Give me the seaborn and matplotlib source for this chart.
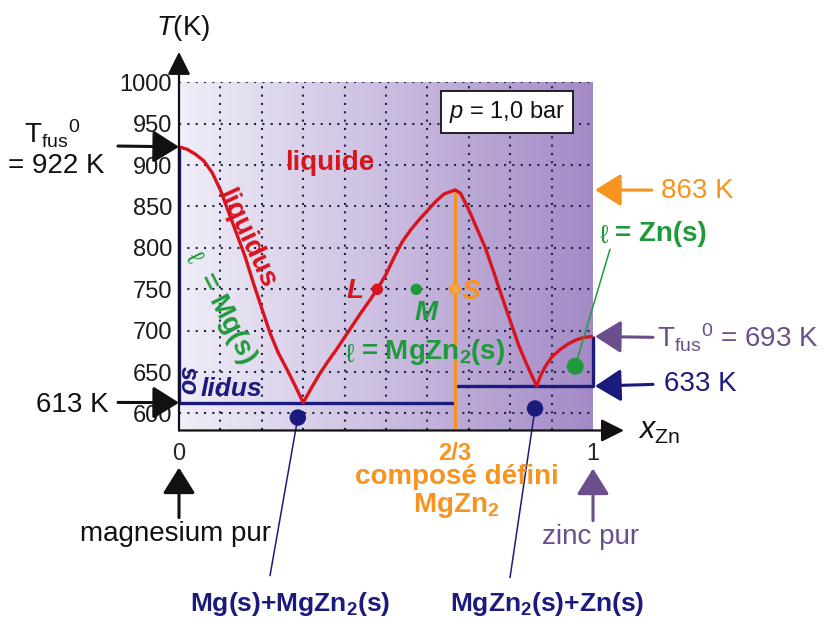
import numpy as np
import pandas as pd
import matplotlib
matplotlib.use("Agg")
import matplotlib.pyplot as plt
import seaborn as sns
from matplotlib.colors import LinearSegmentedColormap

# ---------------- data ----------------
liq_x = [0.00, 0.02, 0.04, 0.06, 0.08, 0.10, 0.12, 0.14, 0.16, 0.18, 0.20, 0.22, 0.24, 0.26, 0.28,
         0.30, 0.32, 0.34, 0.36, 0.38, 0.40, 0.42, 0.44, 0.46, 0.48, 0.50, 0.52, 0.54, 0.56, 0.58,
         0.60, 0.62, 0.64, 0.667, 0.68, 0.70, 0.72, 0.74, 0.76, 0.78, 0.80, 0.82, 0.84,
         0.864, 0.872, 0.884, 0.90, 0.92, 0.94, 0.96, 0.98, 1.00]
liq_T = [922, 919, 913, 905, 891, 870, 843, 816, 789, 757, 727, 697, 673, 654, 634,
         613, 631, 648, 663, 677, 692, 707, 722, 736, 751, 768, 789, 808, 822, 834,
         845, 856, 865, 870, 866, 846, 823, 800, 771, 741, 712, 683, 659,
         633, 644, 656, 668, 677, 684, 689, 692, 693]

sol_left_x = [0.0, 0.0, 2 / 3]
sol_left_T = [922, 613, 613]
sol_right_x = [2 / 3, 1.0, 1.0]
sol_right_T = [633, 633, 693]
compound_x = [2 / 3, 2 / 3]
compound_T = [580, 870]

eut_pts_x = [0.287, 0.86]
eut_pts_T = [595, 606]
zn_pt_x = [0.957]
zn_pt_T = [657]
lms_x = [0.479, 0.573, 2 / 3]
lms_T = [750, 750, 750]
lms_lab = ["L", "M", "S"]

yticks = [600, 650, 700, 750, 800, 850, 900, 950, 1000]
xtick_vals = [0, 2 / 3, 1]
xtick_labels = ["0", "2/3", "1"]
xgrid = [0.1, 0.2, 0.3, 0.4, 0.5, 0.6, 0.7, 0.8, 0.9, 1.0]

# ---------------- style ----------------
sns.set_style("white")
plt.rcParams['font.family'] = ['Liberation Sans', 'DejaVu Sans']
plt.rcParams['mathtext.fontset'] = 'custom'
plt.rcParams['mathtext.rm'] = 'Liberation Sans'
plt.rcParams['mathtext.it'] = 'Liberation Sans:italic'
plt.rcParams['mathtext.bf'] = 'Liberation Sans:bold'

RED = "#d8141e"
GREEN = "#1f9a3b"
ORANGE = "#f7931e"
NAVY = "#1b1b7d"
PURPLE = "#6b4f8c"
BLACK = "#111111"

fig = plt.figure(figsize=(8.25, 6.18), dpi=100)
ax = fig.add_axes([179 / 825, (618 - 430) / 618, 414 / 825, (430 - 82.3) / 618])


def P(xp, yp):
    """pixel position in the figure -> data coordinates"""
    return (xp - 179) / 414, 600 + (413 - yp) * (50 / 41.33)


# background gradient
cmap = LinearSegmentedColormap.from_list("bg", ["#f0eef8", "#cbbde0", "#a38ac6"])
ax.imshow(np.linspace(0, 1, 256).reshape(1, -1), cmap=cmap, extent=[0, 1, 580, 1000],
          aspect="auto", zorder=0)
ax.set_xlim(0, 1)
ax.set_ylim(580, 1000)

# grid
ax.set_axisbelow(True)
ax.set_yticks(yticks)
ax.set_xticks(xtick_vals)
ax.set_xticks(xgrid, minor=True)
ax.xaxis.grid(False, which="major")
ax.xaxis.grid(True, which="minor", color="#222244", linestyle=(0, (1, 3)), linewidth=1.5)
ax.yaxis.grid(True, which="major", color="#222244", linestyle=(0, (1, 3)), linewidth=1.5)
for s in ax.spines.values():
    s.set_visible(False)
ax.tick_params(axis="both", which="both", length=0)
ax.tick_params(axis="y", labelsize=17, pad=5, labelcolor="#1a1a1a")
ax.tick_params(axis="x", labelsize=17, pad=9)
ax.set_xticklabels(xtick_labels)
for lab in ax.get_xticklabels():
    if lab.get_text() == "2/3":
        lab.set_color(ORANGE)
        lab.set_fontweight("bold")

# axes arrows
def arrow(p0, p1, color, lw=2.2, ms=40, hl=0.4, hw=0.25):
    ax.annotate("", xy=p1, xytext=p0, xycoords="data", textcoords="data",
                arrowprops=dict(arrowstyle=f"-|>,head_length={hl},head_width={hw}",
                                color=color, lw=lw, mutation_scale=ms,
                                shrinkA=0, shrinkB=0),
                annotation_clip=False, zorder=6)

arrow(P(179, 430), P(179, 52), BLACK, lw=1.6, ms=28, hl=0.5, hw=0.25)
arrow(P(179, 430), P(624, 430), BLACK, lw=1.6, ms=28, hl=0.5, hw=0.25)

# compound line, solidus, liquidus
sns.lineplot(x=compound_x, y=compound_T, color=ORANGE, lw=2.3, ax=ax, sort=False,
             estimator=None, zorder=4)
sns.lineplot(x=sol_left_x, y=sol_left_T, color=NAVY, lw=2.4, ax=ax, sort=False,
             estimator=None, zorder=3)
sns.lineplot(x=sol_right_x, y=sol_right_T, color=NAVY, lw=2.4, ax=ax, sort=False,
             estimator=None, zorder=3)
sns.lineplot(x=liq_x, y=liq_T, color=RED, lw=2.4, ax=ax, sort=False, estimator=None, zorder=5)
for ln in ax.lines:
    ln.set_clip_on(False)
    ln.set_solid_capstyle("butt")
    ln.set_solid_joinstyle("round")

# pointer lines to region labels
ax.plot([eut_pts_x[0], P(270, 575)[0]], [eut_pts_T[0], P(270, 575)[1]], color=NAVY, lw=1.1,
        clip_on=False, zorder=5)
ax.plot([eut_pts_x[1], P(510, 577)[0]], [eut_pts_T[1], P(510, 577)[1]], color=NAVY, lw=1.1,
        clip_on=False, zorder=5)
ax.plot([zn_pt_x[0], P(610, 249)[0]], [zn_pt_T[0], P(610, 249)[1]], color=GREEN, lw=1.1,
        clip_on=False, zorder=5)

# points
sns.scatterplot(x=eut_pts_x, y=eut_pts_T, color=NAVY, s=140, edgecolor="none", ax=ax, zorder=7)
sns.scatterplot(x=zn_pt_x, y=zn_pt_T, color=GREEN, s=150, edgecolor="none", ax=ax, zorder=7)
sns.scatterplot(x=lms_x, y=lms_T, hue=lms_lab, palette={"L": RED, "M": GREEN, "S": "#f6a640"},
                s=55, edgecolor=[RED, GREEN, ORANGE], linewidth=0.8, ax=ax, zorder=7, legend=False)
for c in ax.collections:
    c.set_clip_on(False)

ax.set_xlabel("")
ax.set_ylabel("")

def txt(xp, yp, s, **kw):
    x, y = P(xp, yp)
    kw.setdefault("ha", "center")
    kw.setdefault("va", "center")
    kw.setdefault("fontsize", 20)
    ax.text(x, y, s, clip_on=False, zorder=8, **kw)

# axis titles
txt(183, 28, r"$T$(K)", color=BLACK)
txt(659, 431, r"$x_{\mathrm{Zn}}$", fontsize=22, color=BLACK)

# left annotations
txt(24, 134, r"T$_{\mathrm{fus}}$$^{\mathrm{0}}$", ha="left", color=BLACK)
txt(8, 166, "= 922 K", ha="left", color=BLACK)
arrow(P(118, 146), (0, liq_T[0]), BLACK)
txt(72, 405, "613 K", color=BLACK)
arrow(P(118, 402), (0, sol_left_T[1]), BLACK)

# in-plot labels
txt(330, 163, "liquide", color=RED, fontweight="bold")
txt(246, 238, "liquidus", color=RED, fontweight="bold", rotation=-65, rotation_mode="anchor")
txt(193, 257, "ℓ", color=GREEN, rotation=-63, fontsize=19)
txt(227, 318, "= Mg(s)", color=GREEN, fontweight="bold", rotation=-63, rotation_mode="anchor")
txt(188, 380, "so", color=NAVY, fontweight="bold", style="italic", rotation=-90, fontsize=18)
txt(201, 389, "lidus", color=NAVY, fontweight="bold", style="italic", ha="left", fontsize=19)
txt(355, 291, lms_lab[0], color=RED, fontweight="bold", style="italic")
txt(426, 313, lms_lab[1], color=GREEN, fontweight="bold", style="italic")
txt(471, 292, lms_lab[2], color=ORANGE, fontweight="bold", style="italic")
txt(350, 354, "ℓ", color=GREEN, fontsize=19)
txt(361, 352, r"= MgZn$_{\mathbf{2}}$(s)", color=GREEN, fontweight="bold", ha="left")
txt(507, 112, r"$p$ = 1,0 bar", color=BLACK, fontsize=17,
    bbox=dict(boxstyle="square,pad=0.35", fc="white", ec=BLACK, lw=1.3))

# right annotations
txt(697, 191, "863 K", color=ORANGE)
arrow(P(652, 190), (1.005, compound_T[1]), ORANGE)
txt(604, 236, "ℓ", color=GREEN, fontsize=19)
txt(615, 234, "= Zn(s)", color=GREEN, fontweight="bold", ha="left")
txt(657, 347, r"T$_{\mathrm{fus}}$$^{\mathrm{0}}$ = 693 K", color=PURPLE, ha="left", va="baseline")
arrow(P(653, 337), (1.005, sol_right_T[2]), PURPLE)
txt(700, 384, "633 K", color=NAVY)
arrow(P(653, 384), (1.005, sol_right_T[0]), NAVY)

# below the axis
txt(457, 476, "composé défini", color=ORANGE, fontweight="bold")
txt(456, 505, r"MgZn$_{\mathbf{2}}$", color=ORANGE, fontweight="bold")
arrow(P(179, 517), P(179, 467), BLACK)
txt(176, 533, "magnesium pur", color=BLACK)
arrow(P(593, 520), P(593, 468), PURPLE)
txt(591, 536, "zinc pur", color=PURPLE)
txt(290, 603, r"Mg(s)+MgZn$_{\mathbf{2}}$(s)", color=NAVY, fontweight="bold", fontsize=19)
txt(547, 603, r"MgZn$_{\mathbf{2}}$(s)+Zn(s)", color=NAVY, fontweight="bold", fontsize=19)

fig.savefig("out.png", dpi=100)
